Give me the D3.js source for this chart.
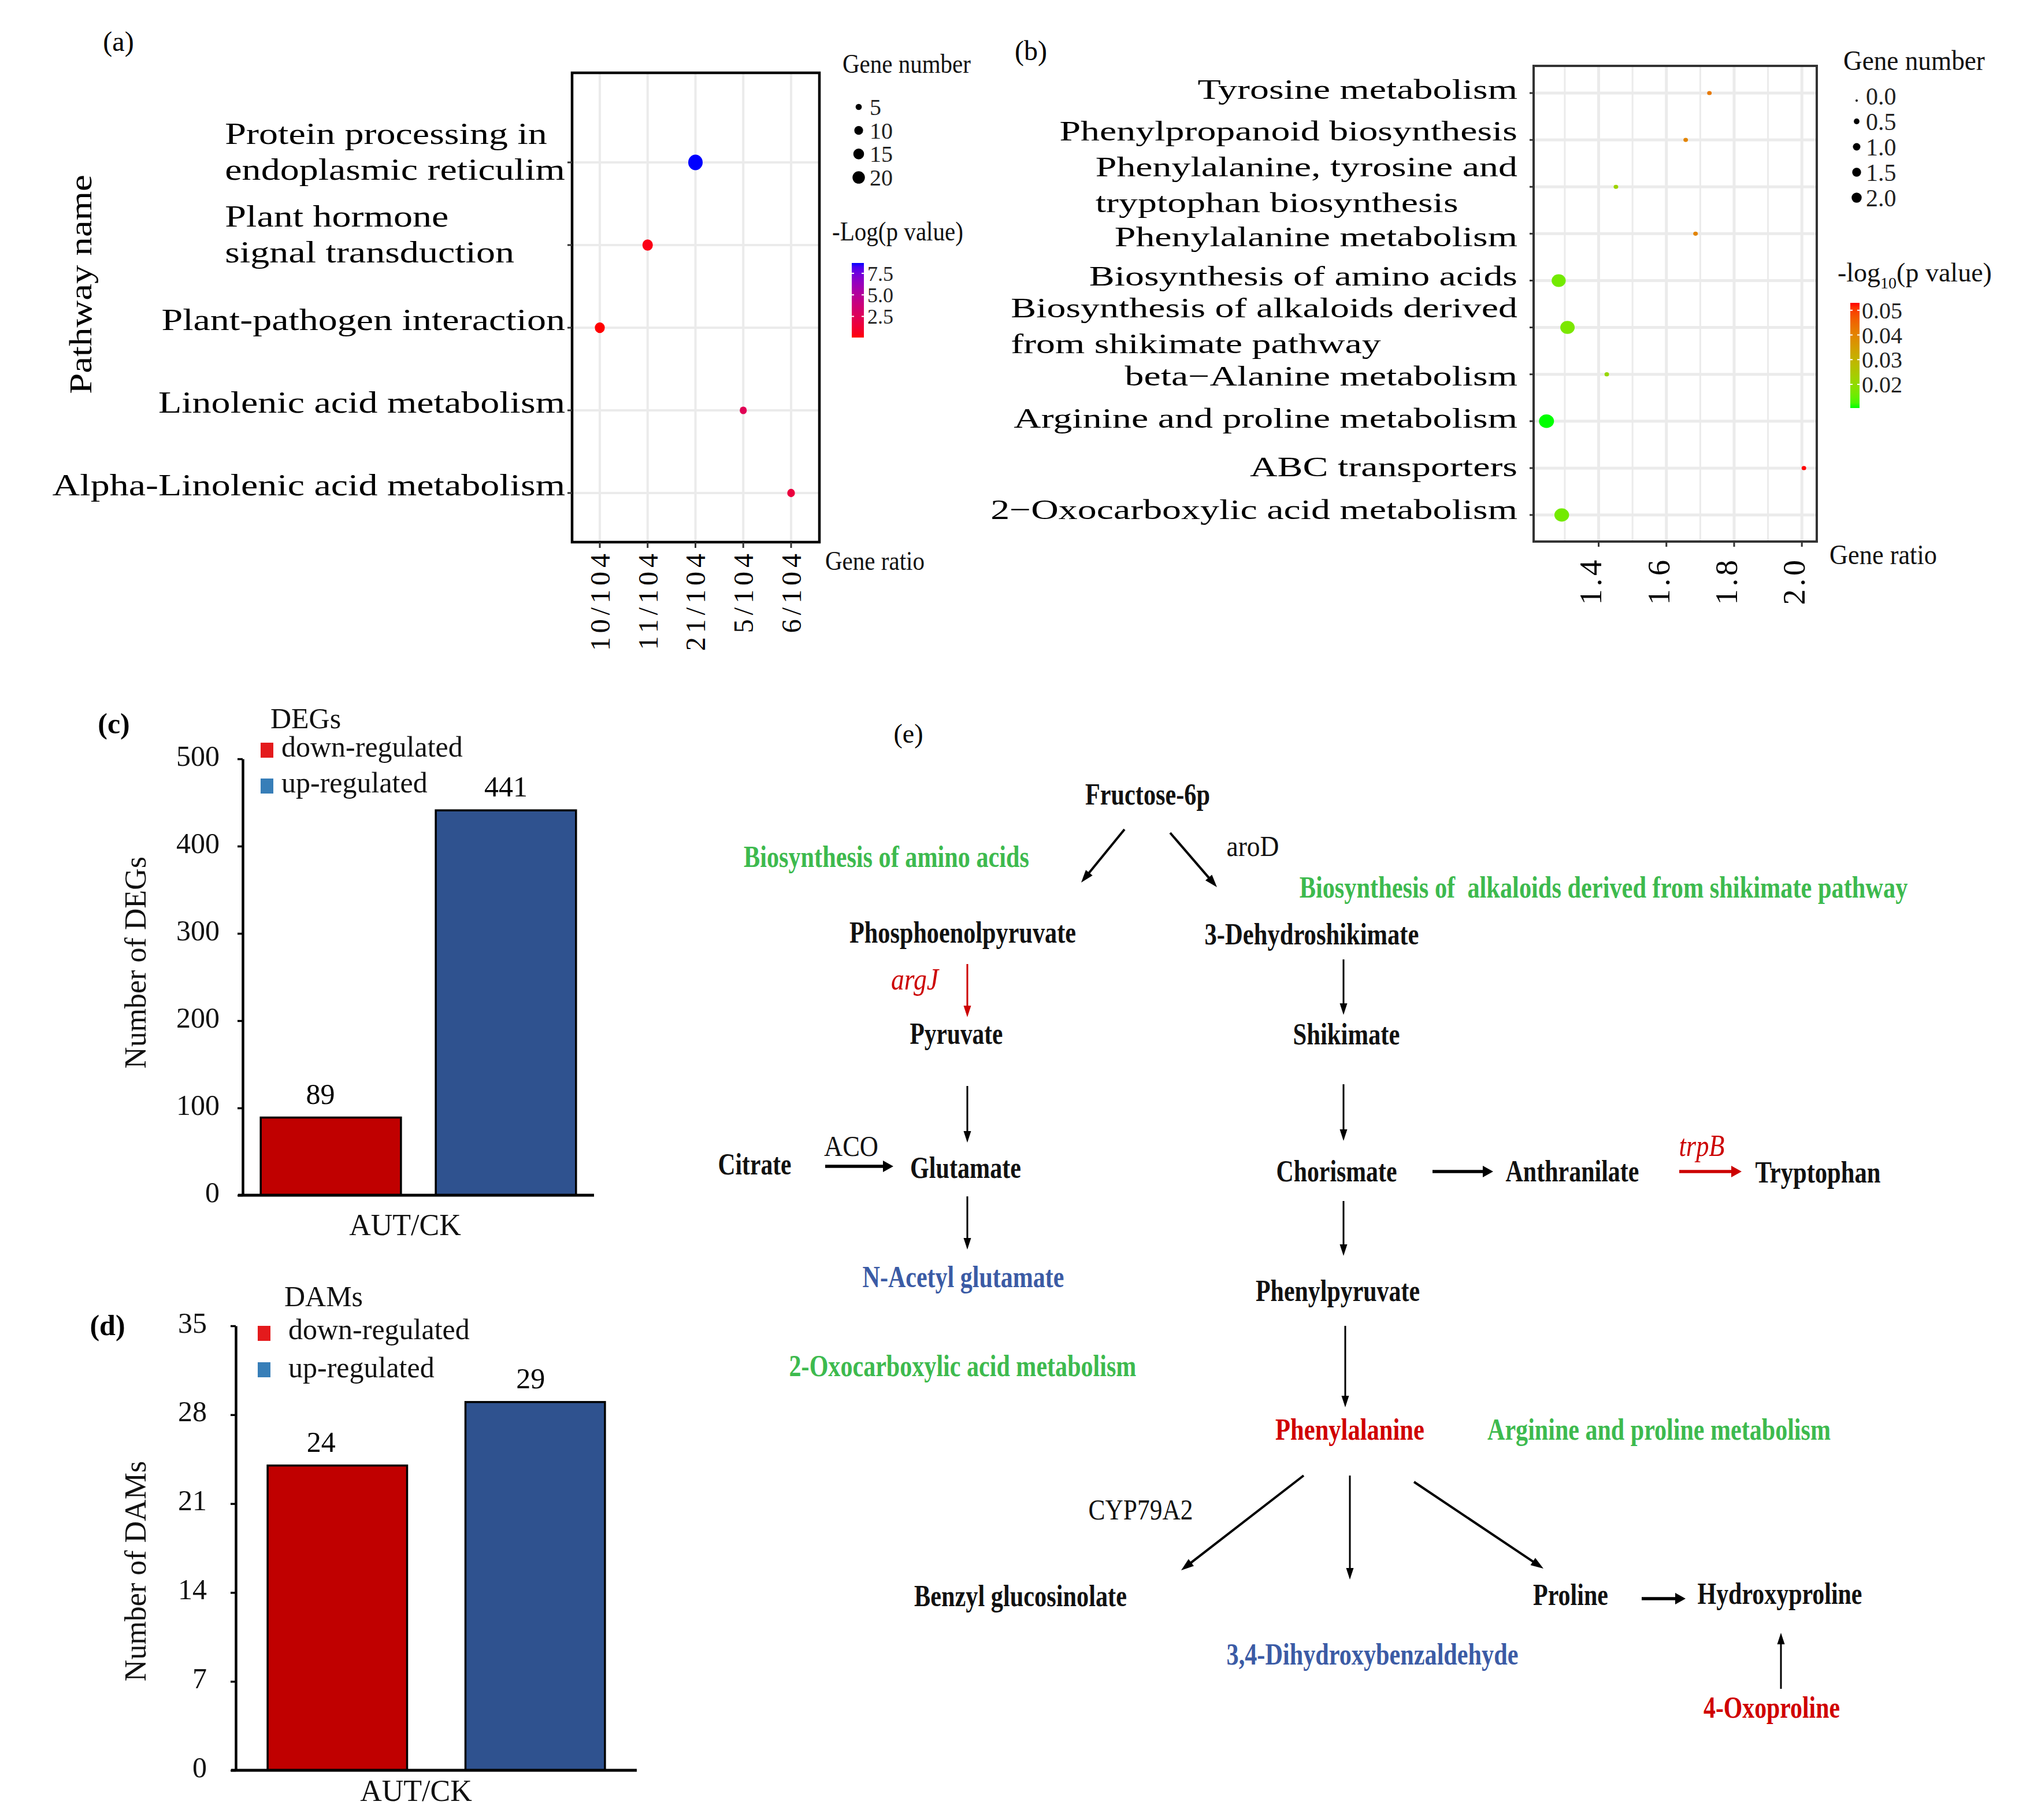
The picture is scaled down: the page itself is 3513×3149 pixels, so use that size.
<!DOCTYPE html>
<html><head><meta charset="utf-8">
<script src="https://cdn.jsdelivr.net/npm/d3@7"></script>
<style>
body{margin:0;background:#fff}
svg{display:block}
text{font-family:"Liberation Serif","Times New Roman",serif;white-space:pre}
</style>
</head><body>
<svg id="fig" width="3513" height="3149"></svg>
<script>
// ---------------- DATA ----------------
// Panel (a)
const pathwaysA = ["Protein processing in\nendoplasmic reticulim","Plant hormone\nsignal transduction","Plant-pathogen interaction","Linolenic acid metabolism","Alpha-Linolenic acid metabolism"];
const geneRatioA = ["21/104","11/104","10/104","5/104","6/104"];
const ratioCategoriesA = ["10/104","11/104","21/104","5/104","6/104"];
const geneNumberA = [21,11,10,5,6];
const negLogPA = [8.7,0.4,0.05,2.4,1.6];
const sizeBreaksA = [5,10,15,20];
const colorBreaksA = [2.5,5.0,7.5];

// Panel (b)
const pathwaysB = ["Tyrosine metabolism","Phenylpropanoid biosynthesis","Phenylalanine, tyrosine and\ntryptophan biosynthesis","Phenylalanine metabolism","Biosynthesis of amino acids","Biosynthesis of alkaloids derived\nfrom shikimate pathway","beta\u2212Alanine metabolism","Arginine and proline metabolism","ABC transporters","2\u2212Oxocarboxylic acid metabolism"];
const geneRatioB = [1.727,1.657,1.451,1.686,1.282,1.308,1.424,1.246,2.006,1.291];
const geneNumberB = [0.1,0.1,0.1,0.1,1.9,2.0,0.1,2.2,0.1,2.1];
const pValueB = [0.042,0.040,0.022,0.040,0.016,0.017,0.021,0.0104,0.053,0.016];
const ratioTicksB = [1.4,1.6,1.8,2.0];
const sizeBreaksB = [0.0,0.5,1.0,1.5,2.0];
const colorBreaksB = [0.02,0.03,0.04,0.05];
// label nudges (layout) for panel (b) single-line labels
const labelNudgeB = [-7,-16,0,5,-9,0,2,-6,-3,-10];

// Panels (c), (d)
const groupsDE = ["down-regulated","up-regulated"];
const degCounts = [89,441];
const damCounts = [24,29];
const degTicks = [0,100,200,300,400,500];
const damTicks = [0,7,14,21,28,35];
const sampleLabel = "AUT/CK";

// Panel (e) pathway diagram
const pathwayNodes = [
 {t:"Fructose-6p",x:1986,y:1392,w:216,k:"n"},
 {t:"aroD",x:2168,y:1481,w:91,k:"r"},
 {t:"Biosynthesis of amino acids",x:1534,y:1500,w:494,k:"g"},
 {t:"Biosynthesis of  alkaloids derived from shikimate pathway",x:2775,y:1553,w:1053,k:"g"},
 {t:"Phosphoenolpyruvate",x:1666,y:1631,w:392,k:"n"},
 {t:"3-Dehydroshikimate",x:2270,y:1634,w:371,k:"n"},
 {t:"argJ",x:1583,y:1712,w:82,k:"i"},
 {t:"Pyruvate",x:1655,y:1806,w:161,k:"n"},
 {t:"Shikimate",x:2330,y:1807,w:185,k:"n"},
 {t:"Citrate",x:1306,y:2032,w:127,k:"n"},
 {t:"ACO",x:1473,y:2000,w:94,k:"r"},
 {t:"Glutamate",x:1671,y:2038,w:192,k:"n"},
 {t:"Chorismate",x:2313,y:2044,w:209,k:"n"},
 {t:"Anthranilate",x:2721,y:2044,w:231,k:"n"},
 {t:"trpB",x:2945,y:2000,w:79,k:"i"},
 {t:"Tryptophan",x:3146,y:2046,w:217,k:"n"},
 {t:"N-Acetyl glutamate",x:1667,y:2227,w:349,k:"b"},
 {t:"Phenylpyruvate",x:2315,y:2251,w:284,k:"n"},
 {t:"2-Oxocarboxylic acid metabolism",x:1666,y:2381,w:601,k:"g"},
 {t:"Phenylalanine",x:2336,y:2491,w:258,k:"red"},
 {t:"Arginine and proline metabolism",x:2871,y:2491,w:594,k:"g"},
 {t:"CYP79A2",x:1974,y:2629,w:181,k:"r"},
 {t:"Benzyl glucosinolate",x:1766,y:2779,w:368,k:"n"},
 {t:"Proline",x:2718,y:2777,w:130,k:"n"},
 {t:"Hydroxyproline",x:3080,y:2775,w:285,k:"n"},
 {t:"3,4-Dihydroxybenzaldehyde",x:2375,y:2880,w:505,k:"b"},
 {t:"4-Oxoproline",x:3066,y:2972,w:236,k:"red"}
];
const pathwayArrows = [
 {x1:1946,y1:1435,x2:1871,y2:1527,s:"d"},
 {x1:2025,y1:1441,x2:2106,y2:1535,s:"d"},
 {x1:1674,y1:1668,x2:1674,y2:1760,s:"t",red:true},
 {x1:2325,y1:1660,x2:2325,y2:1756,s:"t"},
 {x1:1674,y1:1879,x2:1674,y2:1977,s:"t"},
 {x1:2325,y1:1876,x2:2325,y2:1974,s:"t"},
 {x1:1428,y1:2018,x2:1546,y2:2018,s:"k"},
 {x1:2479,y1:2027,x2:2584,y2:2027,s:"k"},
 {x1:2906,y1:2027,x2:3014,y2:2027,s:"k",red:true},
 {x1:1674,y1:2070,x2:1674,y2:2162,s:"t"},
 {x1:2325,y1:2078,x2:2325,y2:2173,s:"t"},
 {x1:2328,y1:2294,x2:2328,y2:2435,s:"t"},
 {x1:2256,y1:2553,x2:2044,y2:2717,s:"d"},
 {x1:2336,y1:2553,x2:2336,y2:2733,s:"t"},
 {x1:2447,y1:2564,x2:2671,y2:2714,s:"d"},
 {x1:2841,y1:2766,x2:2917,y2:2766,s:"k"},
 {x1:3082,y1:2922,x2:3082,y2:2825,s:"t"}
];

// ---------------- DRAWING ----------------
const svg = d3.select("#fig");
svg.append("rect").attr("width",3513).attr("height",3149).attr("fill","#fff");
const defs = svg.append("defs");

function txt(g, s, x, y, o = {}) {
  const t = g.append("text").text(s)
    .attr("font-size", o.size || 50)
    .attr("text-anchor", o.anchor || "start")
    .attr("fill", o.fill || "#000");
  if (o.weight) t.attr("font-weight", o.weight);
  if (o.style) t.attr("font-style", o.style);
  if (o.dy) t.attr("dy", o.dy);
  if (o.ls !== undefined) t.attr("letter-spacing", o.ls);
  let sx = o.sx;
  if (o.width) {
    t.attr("transform", `translate(${x},${y})`);
    const nat = t.node().getComputedTextLength();
    sx = o.width / nat;
  }
  let tr = `translate(${x},${y})`;
  if (o.rotate) tr += ` rotate(${o.rotate})`;
  if (sx) tr += ` scale(${sx},1)`;
  t.attr("transform", tr);
  return t;
}

function colorbar(g, id, scale, x, w, yBottom, yTop, breaks, fmt, labX, size) {
  const dom = scale.domain();
  const grad = defs.append("linearGradient").attr("id", id)
    .attr("x1", 0).attr("y1", 1).attr("x2", 0).attr("y2", 0);
  d3.range(0, 21).forEach(i => {
    const v = dom[0] + (dom[1] - dom[0]) * i / 20;
    grad.append("stop").attr("offset", i / 20).attr("stop-color", scale(v));
  });
  g.append("rect").attr("x", x).attr("y", yTop).attr("width", w).attr("height", yBottom - yTop).attr("fill", `url(#${id})`);
  const pos = d3.scaleLinear().domain(dom).range([yBottom, yTop]);
  breaks.forEach(b => {
    const yy = pos(b);
    g.append("line").attr("x1", x).attr("x2", x + 4).attr("y1", yy).attr("y2", yy).attr("stroke", "#fff").attr("stroke-width", 2);
    g.append("line").attr("x1", x + w - 4).attr("x2", x + w).attr("y1", yy).attr("y2", yy).attr("stroke", "#fff").attr("stroke-width", 2);
    txt(g, fmt(b), labX, yy, {size: size, dy: "0.35em", fill: "#222"});
  });
}

// ===== Panel (a) =====
{
  const g = svg.append("g");
  const box = {x0: 990, x1: 1418, y0: 126, y1: 938};
  const x = d3.scalePoint().domain(ratioCategoriesA).range([1038, 1369]);
  const y = d3.scalePoint().domain(pathwaysA).range([281, 853]);
  const r = d3.scaleSqrt().domain([0, d3.max(geneNumberA)]).range([0, 12.5]);
  const c = d3.scaleLinear().domain(d3.extent(negLogPA)).range(["#ff0000", "#0000ff"]).interpolate(d3.interpolateLab);

  g.selectAll("line.vg").data(ratioCategoriesA).join("line").attr("class", "vg")
    .attr("x1", d => x(d)).attr("x2", d => x(d)).attr("y1", box.y0).attr("y2", box.y1)
    .attr("stroke", "#ebebeb").attr("stroke-width", 4);
  g.selectAll("line.hg").data(pathwaysA).join("line").attr("class", "hg")
    .attr("x1", box.x0).attr("x2", box.x1).attr("y1", d => y(d)).attr("y2", d => y(d))
    .attr("stroke", "#ebebeb").attr("stroke-width", 4);
  const pts = pathwaysA.map((p, i) => ({p, ratio: geneRatioA[i], n: geneNumberA[i], v: negLogPA[i]}));
  g.selectAll("ellipse.pt").data(pts).join("ellipse").attr("class", "pt")
    .attr("cx", d => x(d.ratio)).attr("cy", d => y(d.p))
    .attr("rx", d => r(d.n)).attr("ry", d => r(d.n) * 1.08)
    .attr("fill", d => c(d.v));
  g.append("rect").attr("x", box.x0).attr("y", box.y0).attr("width", box.x1 - box.x0).attr("height", box.y1 - box.y0)
    .attr("fill", "none").attr("stroke", "#000").attr("stroke-width", 4.5);
  ratioCategoriesA.forEach(d => {
    g.append("line").attr("x1", x(d)).attr("x2", x(d)).attr("y1", box.y1).attr("y2", box.y1 + 10).attr("stroke", "#333").attr("stroke-width", 3);
    txt(g, d, x(d), box.y1 + 13, {size: 48, rotate: -90, anchor: "end", dy: "0.35em", ls: 7});
  });
  pathwaysA.forEach(d => {
    g.append("line").attr("x1", box.x0 - 8).attr("x2", box.x0).attr("y1", y(d)).attr("y2", y(d)).attr("stroke", "#333").attr("stroke-width", 3);
  });
  const sx = 1.27, fs = 52, ax = box.x0 - 12;
  const multi = pathwaysA.filter(d => d.includes("\n"));
  let maxW = 0;
  multi.forEach(d => d.split("\n").forEach(line => {
    const t = txt(g, line, 0, -1000, {size: fs});
    maxW = Math.max(maxW, t.node().getComputedTextLength() * sx);
    t.remove();
  }));
  pathwaysA.forEach(d => {
    const lines = d.split("\n");
    if (lines.length === 1) {
      txt(g, d, ax, y(d) - 14, {size: fs, anchor: "end", dy: "0.35em", sx});
    } else {
      txt(g, lines[0], ax - maxW, y(d) - 50, {size: fs, dy: "0.35em", sx});
      txt(g, lines[1], ax - maxW, y(d) + 12, {size: fs, dy: "0.35em", sx});
    }
  });
  txt(g, "Pathway name", 139, 492, {size: 54, rotate: -90, anchor: "middle", dy: "0.35em", sx: 1.2});
  txt(g, "(a)", 205, 88, {size: 48, anchor: "middle"});
  txt(g, "Gene number", 1458, 126, {size: 46, width: 222, fill: "#111"});
  sizeBreaksA.forEach((b, i) => {
    const yy = 185 + i * 40.7;
    g.append("circle").attr("cx", 1486).attr("cy", yy).attr("r", r(b) * 0.88).attr("fill", "#000");
    txt(g, String(b), 1505, yy, {size: 40, dy: "0.35em", fill: "#222"});
  });
  txt(g, "-Log(p value)", 1440, 416, {size: 46, width: 227, fill: "#111"});
  colorbar(g, "gradA", c, 1474, 21, 584, 455, colorBreaksA, d3.format(".1f"), 1501, 36);
  txt(g, "Gene ratio", 1428, 986, {size: 46, width: 172, fill: "#111"});
}

// ===== Panel (b) =====
{
  const g = svg.append("g");
  const box = {x0: 2654, x1: 3144, y0: 114, y1: 937};
  const ext = d3.extent(geneRatioB), pad = (ext[1] - ext[0]) * 0.05;
  const x = d3.scaleLinear().domain([ext[0] - pad, ext[1] + pad]).range([box.x0, box.x1]);
  const y = d3.scalePoint().domain(pathwaysB).range([161, 891]);
  const r = d3.scaleSqrt().domain([0, d3.max(geneNumberB)]).range([1.5, 13]);
  const c = d3.scaleLinear().domain(d3.extent(pValueB)).range(["#00ff00", "#ff0000"]).interpolate(d3.interpolateLab);

  const minor = x.ticks(10).filter(t => !ratioTicksB.some(m => Math.abs(m - t) < 1e-9));
  g.selectAll("line.mg").data(minor).join("line").attr("class", "mg")
    .attr("x1", d => x(d)).attr("x2", d => x(d)).attr("y1", box.y0).attr("y2", box.y1)
    .attr("stroke", "#ebebeb").attr("stroke-width", 3);
  g.selectAll("line.vg").data(ratioTicksB).join("line").attr("class", "vg")
    .attr("x1", d => x(d)).attr("x2", d => x(d)).attr("y1", box.y0).attr("y2", box.y1)
    .attr("stroke", "#ebebeb").attr("stroke-width", 5);
  g.selectAll("line.hg").data(pathwaysB).join("line").attr("class", "hg")
    .attr("x1", box.x0).attr("x2", box.x1).attr("y1", d => y(d)).attr("y2", d => y(d))
    .attr("stroke", "#ebebeb").attr("stroke-width", 5);
  const pts = pathwaysB.map((p, i) => ({p, ratio: geneRatioB[i], n: geneNumberB[i], v: pValueB[i]}));
  g.selectAll("ellipse.pt").data(pts).join("ellipse").attr("class", "pt")
    .attr("cx", d => x(d.ratio)).attr("cy", d => y(d.p))
    .attr("rx", d => r(d.n)).attr("ry", d => r(d.n) * 0.9)
    .attr("fill", d => c(d.v));
  g.append("rect").attr("x", box.x0).attr("y", box.y0).attr("width", box.x1 - box.x0).attr("height", box.y1 - box.y0)
    .attr("fill", "none").attr("stroke", "#333").attr("stroke-width", 4);
  ratioTicksB.forEach(d => {
    g.append("line").attr("x1", x(d)).attr("x2", x(d)).attr("y1", box.y1).attr("y2", box.y1 + 9).attr("stroke", "#333").attr("stroke-width", 3);
    txt(g, d.toFixed(1), x(d) - 14, box.y1 + 27, {size: 54, rotate: -90, anchor: "end", dy: "0.35em", ls: 5});
  });
  pathwaysB.forEach(d => {
    g.append("line").attr("x1", box.x0 - 7).attr("x2", box.x0).attr("y1", y(d)).attr("y2", y(d)).attr("stroke", "#333").attr("stroke-width", 3);
  });
  const sx = 1.345, fs = 49, ax = box.x0 - 28;
  pathwaysB.forEach((d, i) => {
    const lines = d.split("\n");
    if (lines.length === 1) {
      txt(g, d, ax, y(d) + labelNudgeB[i], {size: fs, anchor: "end", dy: "0.35em", sx});
    } else {
      let mw = 0;
      lines.forEach(line => {
        const t = txt(g, line, 0, -1000, {size: fs});
        mw = Math.max(mw, t.node().getComputedTextLength() * sx);
        t.remove();
      });
      txt(g, lines[0], ax - mw, y(d) - 35, {size: fs, dy: "0.35em", sx});
      txt(g, lines[1], ax - mw, y(d) + 27, {size: fs, dy: "0.35em", sx});
    }
  });
  txt(g, "(b)", 1784, 104, {size: 48, anchor: "middle"});
  txt(g, "Gene number", 3190, 121, {size: 48, width: 245, fill: "#111"});
  sizeBreaksB.forEach((b, i) => {
    const yy = 166 + i * 44;
    g.append("circle").attr("cx", 3213).attr("cy", yy + (i === 0 ? 8 : 0)).attr("r", Math.max(2, r(b) * 0.7)).attr("fill", "#000");
    txt(g, b.toFixed(1), 3229, yy, {size: 42, dy: "0.35em", fill: "#222"});
  });
  const tt = g.append("text").attr("transform", "translate(3180,487)").attr("font-size", 46).attr("fill", "#111");
  tt.append("tspan").text("-log");
  tt.append("tspan").text("10").attr("font-size", 28).attr("dy", 12);
  tt.append("tspan").text("(p value)").attr("dy", -12);
  colorbar(g, "gradB", c, 3202, 16, 706, 524, colorBreaksB, d3.format(".2f"), 3222, 40);
  txt(g, "Gene ratio", 3166, 976, {size: 48, width: 186, fill: "#111"});
}

// ===== Panels (c), (d) =====
const barFill = ["#c00000", "#2f528f"];
const legendFill = ["#e41a1c", "#377eb8"];
function barPanel(o) {
  const g = svg.append("g");
  const y = d3.scaleLinear().domain([0, d3.max(o.ticks)]).range([o.yBottom, o.yTop]);
  const x = d3.scaleBand().domain(groupsDE).range([o.axisX, o.axisEnd]).paddingInner(o.pi).paddingOuter(o.po);
  g.selectAll("rect.bar").data(o.values).join("rect").attr("class", "bar")
    .attr("x", (d, i) => x(groupsDE[i])).attr("y", d => y(d))
    .attr("width", x.bandwidth()).attr("height", d => y(0) - y(d))
    .attr("fill", (d, i) => barFill[i]).attr("stroke", "#000").attr("stroke-width", 3.5);
  g.selectAll("text.val").data(o.values).join("text").attr("class", "val")
    .attr("x", (d, i) => x(groupsDE[i]) + x.bandwidth() / 2 - o.labShift[i]).attr("y", d => y(d) - 24)
    .attr("text-anchor", "middle").attr("font-size", 50).text(d => d);
  const axis = d3.axisLeft(y).tickValues(o.ticks).tickSize(9).tickSizeOuter(0).tickPadding(o.pad);
  const axG = g.append("g").attr("transform", `translate(${o.axisX},0)`).call(axis)
    .attr("font-family", '"Liberation Serif","Times New Roman",serif').attr("font-size", 50);
  axG.select(".domain").attr("stroke-width", 4.5).attr("stroke", "#000");
  axG.selectAll(".tick line").attr("stroke-width", 3.5);
  axG.selectAll(".tick text").attr("fill", "#111").attr("dy", "0.22em");
  g.append("line").attr("x1", o.axisX - 8).attr("x2", o.axisEnd).attr("y1", y(0)).attr("y2", y(0))
    .attr("stroke", "#000").attr("stroke-width", 5);
  txt(g, o.yTitle, o.yTitleX, (o.yTop + o.yBottom) / 2 + o.yTitleShift, {size: 52, rotate: -90, anchor: "middle", dy: "0.35em", fill: "#111"});
  txt(g, sampleLabel, o.sampleX, o.sampleY, {size: 52, anchor: "middle", fill: "#111"});
  txt(g, o.panel, o.panelX, o.panelY, {size: 50, weight: "bold", anchor: "middle"});
  txt(g, o.legTitle, o.legTitleX, o.legTitleY, {size: 50, anchor: "middle", fill: "#111"});
  groupsDE.forEach((gname, i) => {
    g.append("rect").attr("x", o.sqX).attr("y", o.sqY[i]).attr("width", 22).attr("height", 26).attr("fill", legendFill[i]);
    txt(g, gname, o.legX, o.legY[i], {size: 50, fill: "#111"});
  });
}
barPanel({values: degCounts, ticks: degTicks, yBottom: 2068, yTop: 1313, axisX: 420, axisEnd: 1028, pi: 0.199, po: 0.103,
  pad: 31, labShift: [18, 0], yTitle: "Number of DEGs", yTitleX: 234, yTitleShift: -25, sampleX: 701, sampleY: 2137,
  panel: "(c)", panelX: 197, panelY: 1269, legTitle: "DEGs", legTitleX: 529, legTitleY: 1260,
  sqX: 451, sqY: [1285, 1347], legX: 487, legY: [1309, 1371]});
barPanel({values: damCounts, ticks: damTicks, yBottom: 3063, yTop: 2294, axisX: 408, axisEnd: 1102, pi: 0.295, po: 0.161,
  pad: 41, labShift: [28, 8], yTitle: "Number of DAMs", yTitleX: 234, yTitleShift: 40, sampleX: 720, sampleY: 3116,
  panel: "(d)", panelX: 186, panelY: 2310, legTitle: "DAMs", legTitleX: 560, legTitleY: 2260,
  sqX: 446, sqY: [2294, 2357], legX: 499, legY: [2317, 2383]});

// ===== Panel (e) =====
{
  const g = svg.append("g");
  txt(g, "(e)", 1572, 1285, {size: 46, anchor: "middle"});
  const kinds = {
    n: {fill: "#111", weight: "bold", size: 52},
    g: {fill: "#3dba4e", weight: "bold", size: 52},
    b: {fill: "#3b5ba5", weight: "bold", size: 52},
    red: {fill: "#d00000", weight: "bold", size: 52},
    i: {fill: "#cc0000", style: "italic", size: 52},
    r: {fill: "#111", size: 50}
  };
  pathwayNodes.forEach(n => {
    const k = kinds[n.k];
    txt(g, n.t, n.x, n.y, {size: k.size, weight: k.weight, style: k.style, fill: k.fill, anchor: "middle", width: n.w});
  });
  const st = {t: {w: 3, hl: 20, hw: 13}, d: {w: 4, hl: 22, hw: 15}, k: {w: 5.5, hl: 18, hw: 20}};
  pathwayArrows.forEach(a => {
    const s = st[a.s], col = a.red ? "#cc0000" : "#000";
    const dx = a.x2 - a.x1, dy = a.y2 - a.y1, L = Math.hypot(dx, dy), ux = dx / L, uy = dy / L;
    const bx = a.x2 - ux * s.hl, by = a.y2 - uy * s.hl, px = -uy, py = ux;
    g.append("line").attr("x1", a.x1).attr("y1", a.y1).attr("x2", bx + ux * 3).attr("y2", by + uy * 3)
      .attr("stroke", col).attr("stroke-width", s.w);
    g.append("path").attr("d", `M${a.x2},${a.y2}L${bx + px * s.hw / 2},${by + py * s.hw / 2}L${bx - px * s.hw / 2},${by - py * s.hw / 2}Z`)
      .attr("fill", col);
  });
}
</script>
</body></html>
